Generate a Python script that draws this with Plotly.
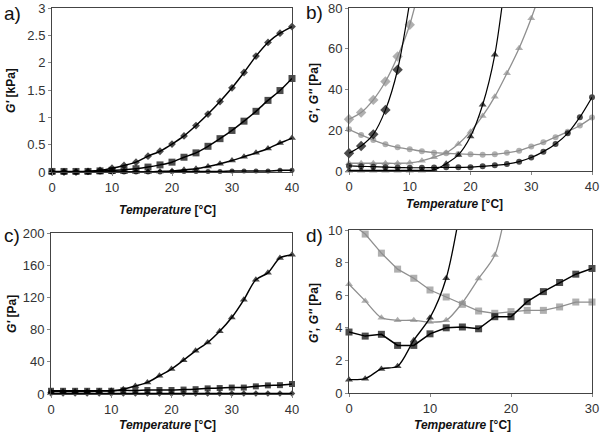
import plotly.graph_objects as go

# ---------------- data ----------------
temp40 = list(range(0, 41, 2))
temp30 = list(range(0, 31, 2))

# panel a (G' in kPa)
a_diamond = [0, 0, 0, 0.01, 0.03, 0.07, 0.12, 0.18, 0.29, 0.38, 0.51, 0.66, 0.85, 1.06, 1.29, 1.54, 1.82, 2.12, 2.37, 2.54, 2.66]
a_square = [0.01, 0.01, 0.01, 0.01, 0.02, 0.03, 0.04, 0.06, 0.09, 0.13, 0.18, 0.27, 0.35, 0.47, 0.61, 0.76, 0.93, 1.11, 1.31, 1.49, 1.71]
a_triangle = [0, 0, 0, 0, 0, 0, 0, 0, 0, 0.01, 0.02, 0.04, 0.06, 0.10, 0.15, 0.21, 0.28, 0.35, 0.43, 0.53, 0.62]
a_circle = [0, 0, 0, 0, 0, 0, 0, 0, 0, 0, 0.01, 0.01, 0.01, 0.01, 0.01, 0.02, 0.02, 0.02, 0.02, 0.03, 0.03]

# panel b (G', G'' in Pa)
b_gray_diamond_x = [0, 2, 4, 6, 8, 10, 12]
b_gray_diamond = [25.4, 28.7, 34.9, 43.9, 56.2, 71.8, 95]
b_black_diamond_x = [0, 2, 4, 6, 8, 10]
b_black_diamond = [8.7, 12.3, 18.0, 30.0, 49.7, 83]
b_gray_circle = [20.5, 17.7, 15.2, 13.1, 11.6, 10.7, 9.7, 9.0, 8.7, 8.4, 8.2, 8.0, 8.2, 8.9, 10.0, 12.0, 14.1, 16.6, 19.3, 22.3, 26.2]
b_black_circle = [2.5, 2.3, 2.1, 1.9, 1.7, 1.6, 1.6, 1.7, 1.8, 1.8, 1.9, 2.3, 2.8, 3.4, 4.6, 6.6, 9.5, 13.3, 18.5, 26.4, 36.2]
b_gray_triangle_x = list(range(0, 33, 2))
b_gray_triangle = [3.8, 3.8, 3.8, 3.8, 3.8, 4.0, 5.0, 6.8, 9.0, 13.3, 19.3, 27.0, 36.5, 48.0, 60.3, 75.0, 92.0]
b_black_triangle_x = list(range(0, 27, 2))
b_black_triangle = [0.3, 0.3, 0.3, 0.3, 0.3, 0.3, 0.3, 0.5, 3.6, 7.9, 16.9, 32.5, 57.0, 100]

# panel c (G' in Pa)
c_triangle = [3, 3, 3, 3, 3.5, 4, 6, 10, 14.4, 22.7, 31, 42, 53.6, 64, 78, 95, 117, 142, 150.5, 169, 173]
c_square = [4, 4, 4, 4, 4, 4, 4.5, 4.5, 5, 5, 5, 5.5, 6, 7, 7.4, 8, 8, 9.5, 10.7, 11, 12.4]
c_diamond = [0.5] * 21

# panel d (G', G'' in Pa)
d_gray_square = [10.5, 9.75, 8.58, 7.6, 7.04, 6.32, 5.89, 5.44, 5.03, 4.89, 4.99, 5.07, 5.07, 5.28, 5.58, 5.58]
d_gray_triangle_x = list(range(0, 21, 2))
d_gray_triangle = [6.67, 5.65, 4.62, 4.46, 4.46, 4.35, 4.46, 5.54, 7.02, 8.46, 13.0]
d_black_square = [3.74, 3.49, 3.6, 2.92, 2.92, 3.63, 4.0, 4.05, 3.94, 4.68, 4.68, 5.6, 6.22, 6.78, 7.29, 7.64]
d_black_triangle_x = list(range(0, 15, 2))
d_black_triangle = [0.82, 0.88, 1.48, 1.64, 3.24, 4.62, 7.04, 12.0]

BLACK = "#000000"
GRAY = "#8f8f8f"
FONT = "Liberation Sans, Arial, sans-serif"

fig = go.Figure()


def add(x, y, sub, symbol, color, size, ymax, shape="spline", width=1.5):
    sizes = [size if v <= ymax else 0 for v in y]
    xa = "x" if sub == 1 else f"x{sub}"
    ya = "y" if sub == 1 else f"y{sub}"
    fig.add_trace(go.Scatter(
        x=x, y=y, xaxis=xa, yaxis=ya, mode="lines+markers",
        line=dict(color=color, width=width, shape=shape, smoothing=0.8),
        marker=dict(symbol=symbol, color=color, size=sizes, line=dict(width=0)),
        cliponaxis=False, showlegend=False, hoverinfo="skip"))


# panel a
add(temp40, a_circle, 1, "circle", BLACK, 5, 3)
add(temp40, a_triangle, 1, "triangle-up", BLACK, 7, 3)
add(temp40, a_square, 1, "square", BLACK, 7, 3)
add(temp40, a_diamond, 1, "diamond", BLACK, 6, 3)

# panel b
add(temp40, b_gray_circle, 2, "circle", GRAY, 6, 80, width=1.3)
add(b_gray_triangle_x, b_gray_triangle, 2, "triangle-up", GRAY, 7, 80, width=1.3)
add(b_gray_diamond_x, b_gray_diamond, 2, "diamond", GRAY, 8, 80, width=1.3)
add(temp40, b_black_circle, 2, "circle", BLACK, 6, 80, width=1.2)
add(b_black_triangle_x, b_black_triangle, 2, "triangle-up", BLACK, 7, 80, width=1.2)
add(b_black_diamond_x, b_black_diamond, 2, "diamond", BLACK, 8, 80, width=1.2)

# panel c
add(temp40, c_diamond, 3, "diamond", BLACK, 5, 200)
add(temp40, c_square, 3, "square", BLACK, 6, 200)
add(temp40, c_triangle, 3, "triangle-up", BLACK, 7, 200)

# panel d
add(temp30, d_gray_square, 4, "square", GRAY, 7, 10, shape="linear", width=1.3)
add(d_gray_triangle_x, d_gray_triangle, 4, "triangle-up", GRAY, 7, 10, width=1.3)
add(temp30, d_black_square, 4, "square", BLACK, 7, 10, shape="linear", width=1.5)
add(d_black_triangle_x, d_black_triangle, 4, "triangle-up", BLACK, 7, 10, width=1.3)

W, H = 602, 443


def xd(l, r):
    return [l / W, r / W]


def yd(t, b):
    return [1 - b / H, 1 - t / H]


axis_common = dict(showgrid=False, zeroline=False, showline=True, linecolor="#444444",
                   linewidth=1, mirror=True, ticks="outside", ticklen=3, tickcolor="#888888",
                   automargin=False,
                   tickfont=dict(family=FONT, size=13, color="#333333"))

fig.update_layout(
    width=W, height=H, margin=dict(l=0, r=0, t=0, b=0, pad=0, autoexpand=False),
    paper_bgcolor="white", plot_bgcolor="white",
    font=dict(family=FONT, color="#222222"),
    xaxis=dict(domain=xd(52, 292), range=[0, 40], tickvals=[0, 10, 20, 30, 40], anchor="y", **axis_common),
    yaxis=dict(domain=yd(8, 172), range=[0, 3], tickvals=[0, 0.5, 1, 1.5, 2, 2.5, 3], anchor="x", **axis_common),
    xaxis2=dict(domain=xd(349, 592), range=[0, 40], tickvals=[0, 10, 20, 30, 40], anchor="y2", **axis_common),
    yaxis2=dict(domain=yd(8, 171), range=[0, 80], tickvals=[0, 20, 40, 60, 80], anchor="x2", **axis_common),
    xaxis3=dict(domain=xd(51, 292), range=[0, 40], tickvals=[0, 10, 20, 30, 40], anchor="y3", **axis_common),
    yaxis3=dict(domain=yd(233, 394), range=[0, 200], tickvals=[0, 40, 80, 120, 160, 200], anchor="x3", **axis_common),
    xaxis4=dict(domain=xd(349, 592), range=[0, 30], tickvals=[0, 10, 20, 30], anchor="y4", **axis_common),
    yaxis4=dict(domain=yd(230, 393), range=[0, 10], tickvals=[0, 2, 4, 6, 8, 10], anchor="x4", **axis_common),
)

annots = []
xt = "<b><i>Temperature</i> [°C]</b>"
for (cx, cy) in [(167, 210), (454, 204), (167, 425), (462, 425)]:
    annots.append(dict(text=xt, x=cx / W, y=1 - cy / H, xref="paper", yref="paper",
                       showarrow=False, xanchor="center", yanchor="middle",
                       font=dict(family=FONT, size=12, color="#111111")))
for (txt, cx, cy) in [("<b><i>G'</i> [kPa]</b>", 11, 91), ("<b><i>G', G''</i> [Pa]</b>", 314, 93),
                      ("<b><i>G'</i> [Pa]</b>", 12, 314), ("<b><i>G', G''</i> [Pa]</b>", 314, 313)]:
    annots.append(dict(text=txt, x=cx / W, y=1 - cy / H, xref="paper", yref="paper",
                       showarrow=False, xanchor="center", yanchor="middle", textangle=-90,
                       font=dict(family=FONT, size=12, color="#111111")))
for (txt, cx, cy) in [("a)", 12, 14), ("b)", 314, 12), ("c)", 12, 235), ("d)", 314, 236)]:
    annots.append(dict(text=txt, x=cx / W, y=1 - cy / H, xref="paper", yref="paper",
                       showarrow=False, xanchor="center", yanchor="middle",
                       font=dict(family=FONT, size=19, color="#111111")))
fig.update_layout(annotations=annots)

fig.write_html("out.html", config={"displayModeBar": False},
               post_script="document.body.style.margin='0px';document.body.style.overflow='hidden';")
